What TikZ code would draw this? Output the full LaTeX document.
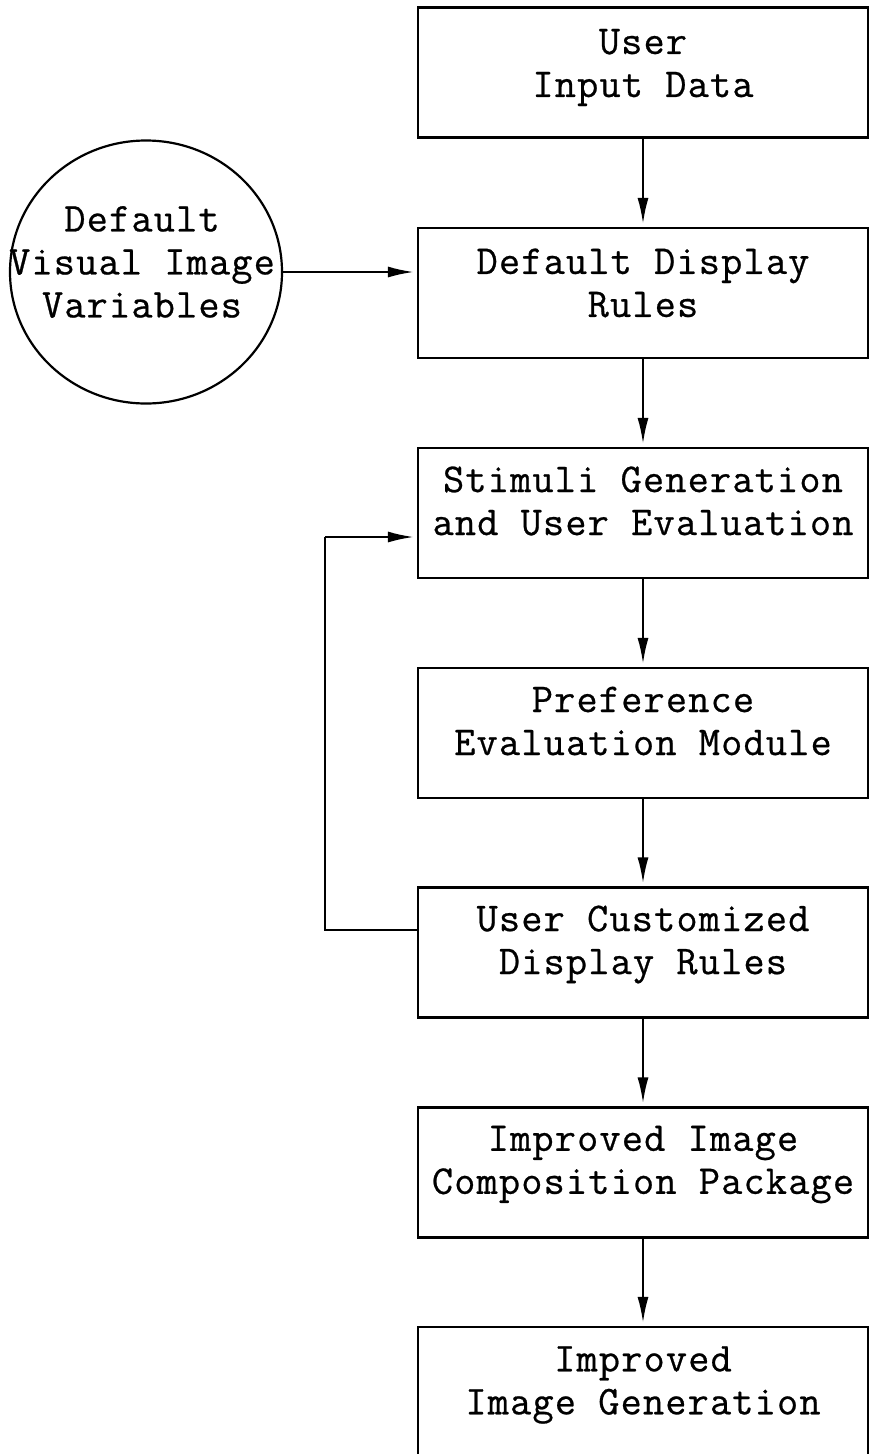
\documentclass[tikz,border=0pt]{standalone}
\usepackage{fontspec}
\newfontfamily\stagefont{Latin Modern Mono}[FakeBold=0.6, LetterSpace=3]
\usetikzlibrary{arrows.meta,shapes.geometric}

\tikzset{
  stagebox/.style={draw, line width=2.2pt, minimum width=450pt, minimum height=130pt, inner sep=0pt},
  stagetext/.style={font=\stagefont\fontsize{41}{43}\selectfont, align=center, inner sep=0pt},
  source/.style={draw, ellipse, line width=2.2pt, minimum width=272pt, minimum height=263pt, inner sep=0pt},
  flow/.style={line width=2.2pt, -{Latex[length=26pt,width=11pt]}, shorten >=3pt},
  link/.style={line width=2.2pt}
}

\begin{document}
\begin{tikzpicture}[x=1pt, y=-1pt]
  \useasboundingbox (0,0) rectangle (870,1454);
  \clip (0,0) rectangle (870,1454);

  % process stages, top to bottom
  \node[stagebox] (input)    at (643,72.5)  {};
  \node[stagebox] (defrules) at (643,293)   {};
  \node[stagebox] (stimuli)  at (643,513)   {};
  \node[stagebox] (pref)     at (643,733)   {};
  \node[stagebox] (custom)   at (643,952.5) {};
  \node[stagebox] (package)  at (643,1172.5){};
  \node[stagebox] (gen)      at (643,1392)  {};

  \node[stagetext] (t-input)    at ([yshift=5pt]input.center)     {User\\Input Data};
  \node[stagetext] (t-defrules) at ([yshift=10pt]defrules.center) {Default Display\\Rules};
  \node[stagetext] (t-stimuli)  at ([yshift=12pt]stimuli.center)  {Stimuli Generation\\and User Evaluation};
  \node[stagetext] (t-pref)     at ([yshift=12pt]pref.center)     {Preference\\Evaluation Module};
  \node[stagetext] (t-custom)   at ([yshift=8pt]custom.center)    {User Customized\\Display Rules};
  \node[stagetext] (t-package)  at ([yshift=8pt]package.center)   {Improved Image\\Composition Package};
  \node[stagetext] (t-gen)      at ([yshift=7pt]gen.center)       {Improved\\Image Generation};

  % default variables feeding the default rules
  \node[source] (vars) at (146,272) {};
  \node[stagetext] (t-vars) at (142,262) {Default\\Visual Image\\Variables};

  % main flow
  \draw[flow] (input.south)    -- (defrules.north);
  \draw[flow] (defrules.south) -- (stimuli.north);
  \draw[flow] (stimuli.south)  -- (pref.north);
  \draw[flow] (pref.south)     -- (custom.north);
  \draw[flow] (custom.south)   -- (package.north);
  \draw[flow] (package.south)  -- (gen.north);

  \draw[flow] (vars.east |- 0,272) -- (defrules.west |- 0,272);

  % feedback loop from customized rules back to stimuli generation
  \coordinate (loopbot) at (325,930);
  \coordinate (looptop) at (325,537);
  \draw[link] (custom.west |- loopbot) -- (loopbot) -- (looptop);
  \draw[flow] (looptop) -- (stimuli.west |- looptop);
\end{tikzpicture}
\end{document}
